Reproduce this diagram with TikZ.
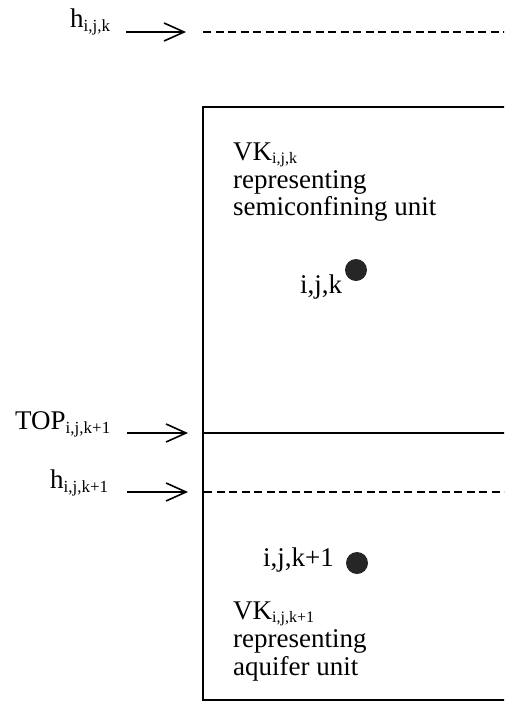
\documentclass[tikz,border=0pt]{standalone}
\usepackage{fontspec}
\setmainfont{Liberation Serif}
\usetikzlibrary{arrows.meta}
\newcommand{\subs}[1]{\raisebox{-4pt}{\fontsize{17}{17}\selectfont #1}}
\newcommand{\subt}[1]{\raisebox{-3pt}{\fontsize{16}{16}\selectfont #1}}
\tikzset{
  lbl/.style={anchor=base west, inner sep=0pt, font=\fontsize{27}{27}\selectfont},
  ptr/.style={line width=1.7pt, -{Straight Barb[length=20pt, width=18pt, line width=1.6pt]}},
  headline/.style={line width=1.4pt, dash pattern=on 8pt off 4.5pt},
  wall/.style={line width=2pt},
  celldot/.style={circle, fill=black!85, inner sep=0pt, minimum size=22pt}
}
\begin{document}
\begin{tikzpicture}[x=1pt,y=-1pt]
\useasboundingbox (0,0) rectangle (504,702);
\clip (0,0) rectangle (504,702);
% box
\draw[wall] (520,107) -- (203,107) -- (203,700) -- (520,700);
\coordinate (topL) at (203,433);
\coordinate (topR) at (520,433);
\draw[wall] (topL) -- (topR);
\coordinate (h1L) at (203,32);
\coordinate (h1R) at (520,32);
\draw[headline] (h1L) -- (h1R);
\coordinate (h2L) at (204,492);
\coordinate (h2R) at (520,492);
\draw[headline] (h2L) -- (h2R);
% labels and pointers
\node[lbl] (hk) at (70,27) {h\subs{i,j,k}};
\coordinate (a1s) at (126,32);
\coordinate (a1e) at (186,32);
\draw[ptr] (a1s) -- (a1e);
\node[lbl] (top) at (15,429) {TOP\subs{i,j,k+1}};
\coordinate (a2s) at (127,433);
\coordinate (a2e) at (188,433);
\draw[ptr] (a2s) -- (a2e);
\node[lbl] (hk1) at (50,488) {h\subs{i,j,k+1}};
\coordinate (a3s) at (127,492);
\coordinate (a3e) at (188,492);
\draw[ptr] (a3s) -- (a3e);
% upper cell
\node[lbl] (vk) at (233,160) {VK\subt{i,j,k}};
\node[lbl] (rep1) at (233,188) {representing};
\node[lbl] (semi) at (233,215) {semiconfining unit};
\node[celldot] (d1) at (356,270) {};
\node[lbl] (c1) at (300,293) {i,j,k};
% lower cell
\node[lbl] (c2) at (263,566) {i,j,k+1};
\node[celldot] (d2) at (357,563) {};
\node[lbl] (vk1) at (233,619) {VK\subt{i,j,k+1}};
\node[lbl] (rep2) at (233,647) {representing};
\node[lbl] (aq) at (233,675) {aquifer unit};
\end{tikzpicture}
\end{document}
